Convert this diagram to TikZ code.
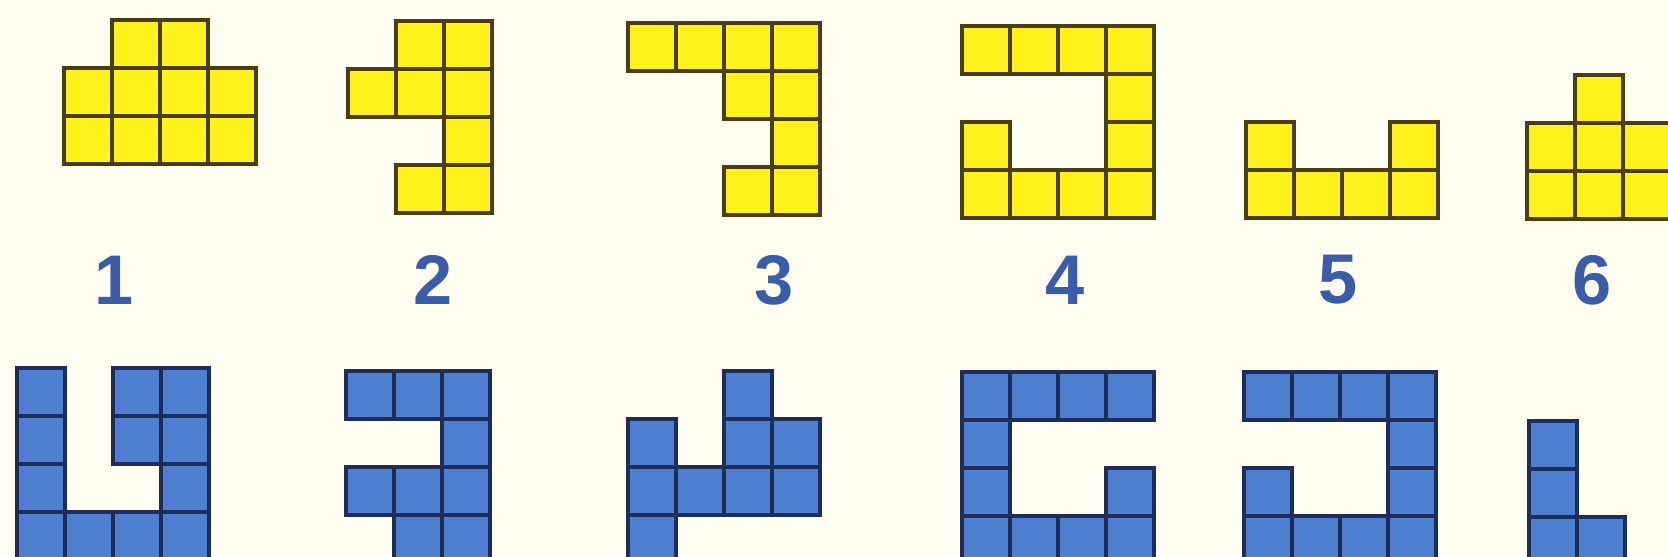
\documentclass[tikz,border=0pt]{standalone}
\usepackage{fontspec}
\setmainfont{Liberation Sans}
\usepackage{tikz}
\definecolor{PaperCream}{RGB}{255,254,240}
\definecolor{TileYellow}{RGB}{255,242,26}
\definecolor{TileYellowEdge}{RGB}{74,62,18}
\definecolor{TileBlue}{RGB}{78,127,208}
\definecolor{TileBlueEdge}{RGB}{30,45,90}
\definecolor{NumBlue}{RGB}{59,92,168}

% one piece: style, left, top, list of col/row cells
\newcommand{\piece}[4]{%
  \foreach \c/\r in {#4}
    \draw[#1] ({#2+48*\c},{#3+48*\r}) rectangle ++(48,48);}

\begin{document}
\begin{tikzpicture}[x=0.01cm, y=-0.01cm,
  ycell/.style={draw=TileYellowEdge, fill=TileYellow, line width=1.3pt},
  bcell/.style={draw=TileBlueEdge, fill=TileBlue, line width=1.3pt},
  num/.style={text=NumBlue, font=\fontsize{20}{20}\selectfont\bfseries, inner sep=0pt}]
  \fill[PaperCream] (0,0) rectangle (1668,556);
  \useasboundingbox (0,0) rectangle (1668,556);
  \clip (0,0) rectangle (1668,556);
  % yellow pieces
  \piece{ycell}{64}{20}{1/0,2/0,0/1,1/1,2/1,3/1,0/2,1/2,2/2,3/2}
  \piece{ycell}{348}{21}{1/0,2/0,0/1,1/1,2/1,2/2,1/3,2/3}
  \piece{ycell}{628}{23}{0/0,1/0,2/0,3/0,2/1,3/1,3/2,2/3,3/3}
  \piece{ycell}{962}{26}{0/0,1/0,2/0,3/0,3/1,0/2,3/2,0/3,1/3,2/3,3/3}
  \piece{ycell}{1246}{122}{0/0,3/0,0/1,1/1,2/1,3/1}
  \piece{ycell}{1527}{75}{1/0,0/1,1/1,2/1,0/2,1/2,2/2}
  % numbers
  \node[num] (n1) at (114,280) {1};
  \node[num] (n2) at (433,280) {2};
  \node[num] (n3) at (774,280) {3};
  \node[num] (n4) at (1065,280) {4};
  \node[num] (n5) at (1338,280) {5};
  \node[num] (n6) at (1592,280) {6};
  % blue pieces
  \piece{bcell}{17}{368}{0/0,2/0,3/0,0/1,2/1,3/1,0/2,3/2,0/3,1/3,2/3,3/3}
  \piece{bcell}{346}{371}{0/0,1/0,2/0,2/1,0/2,1/2,2/2,1/3,2/3}
  \piece{bcell}{628}{371}{2/0,0/1,2/1,3/1,0/2,1/2,2/2,3/2,0/3}
  \piece{bcell}{962}{372}{0/0,1/0,2/0,3/0,0/1,0/2,3/2,0/3,1/3,2/3,3/3}
  \piece{bcell}{1244}{372}{0/0,1/0,2/0,3/0,3/1,0/2,3/2,0/3,1/3,2/3,3/3}
  \piece{bcell}{1529}{421}{0/0,0/1,0/2,1/2}
\end{tikzpicture}
\end{document}
